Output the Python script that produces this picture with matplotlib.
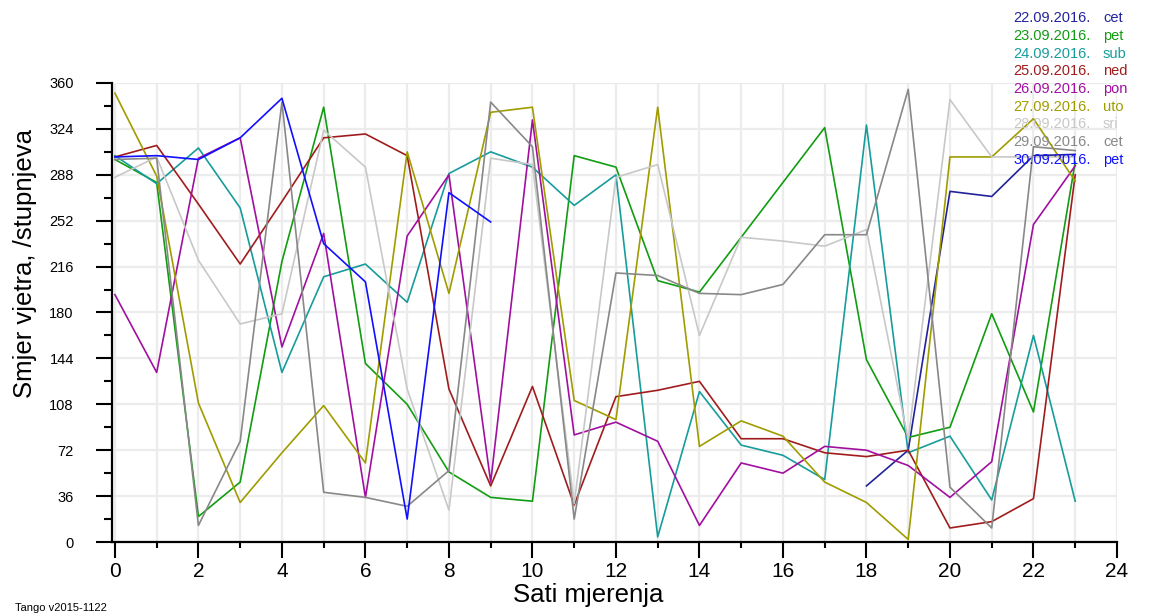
import matplotlib
matplotlib.use('Agg')
import matplotlib.pyplot as plt
from matplotlib.ticker import MultipleLocator

plt.rcParams['font.family'] = ['Liberation Sans', 'DejaVu Sans']

hours = list(range(24))

# one list per day, hour -> wind direction (degrees); None = no data
d22 = [None] * 18 + [44, 72, 275, 271, 303, 304]
d23 = [300, 282, 20, 47, 220, 341, 140, 108, 55, 35, 32, 303, 294, 205, 196, 239, 282, 325, 143, 82, 90, 179, 102, 298]
d24 = [303, 281, 309, 262, 133, 208, 218, 188, 289, 306, 294, 264, 288, 4, 118, 76, 68, 49, 327, 70, 83, 33, 162, 32]
d25 = [302, 311, 265, 218, 267, 317, 320, 303, 120, 44, 122, 29, 114, 119, 126, 81, 81, 70, 67, 72, 11, 16, 34, 288]
d26 = [194, 133, 301, 317, 153, 242, 35, 240, 288, 47, 331, 84, 94, 79, 13, 62, 54, 75, 72, 60, 35, 63, 249, 295]
d27 = [352, 287, 109, 31, 70, 107, 62, 306, 195, 337, 341, 111, 96, 341, 75, 95, 83, 47, 31, 2, 302, 302, 332, 283]
d28 = [286, 302, 221, 171, 179, 323, 294, 120, 25, 301, 296, 30, 286, 296, 162, 239, 236, 232, 245, 80, 347, 302, 302, 302]
d29 = [300, 301, 13, 79, 345, 39, 35, 28, 56, 345, 310, 18, 211, 209, 195, 194, 202, 241, 241, 355, 43, 11, 310, 307]
d30 = [302, 303, 300, 317, 348, 234, 204, 18, 274, 251] + [None] * 14

series = [d22, d23, d24, d25, d26, d27, d28, d29, d30]
dates = ['22.09.2016.', '23.09.2016.', '24.09.2016.', '25.09.2016.', '26.09.2016.',
         '27.09.2016.', '28.09.2016.', '29.09.2016.', '30.09.2016.']
days = ['cet', 'pet', 'sub', 'ned', 'pon', 'uto', 'sri', 'cet', 'pet']
colors = ['#22229c', '#119c11', '#179c9c', '#a01c1c', '#a010a0',
          '#a09c00', '#c8c8c8', '#888888', '#1010ff']

fig = plt.figure(figsize=(11.57, 6.16), dpi=100)
ax = fig.add_axes([0.0968, 0.1201, 0.8686, 0.7452])

for vals, col in zip(series, colors):
    xs = [h for h, v in zip(hours, vals) if v is not None]
    ys = [v for v in vals if v is not None]
    ax.plot(xs, ys, color=col, lw=1.2)

ax.set_xlim(-0.07, 24)
ax.set_ylim(0, 360)
ax.xaxis.set_major_locator(MultipleLocator(2))
ax.xaxis.set_minor_locator(MultipleLocator(1))
ax.yaxis.set_major_locator(MultipleLocator(36))
ax.yaxis.set_minor_locator(MultipleLocator(18))

ax.grid(True, which='major', axis='y', color='#ececec', lw=1.6)
ax.grid(True, which='both', axis='x', color='#ececec', lw=1.6)
ax.set_axisbelow(True)

for s in ['top', 'right']:
    ax.spines[s].set_visible(False)
for s in ['left', 'bottom']:
    ax.spines[s].set_linewidth(1.6)

ax.tick_params(axis='y', which='major', length=11.5, width=1.5, pad=16, labelsize=10.5)
ax.tick_params(axis='y', which='minor', length=5.8, width=1.5)
ax.tick_params(axis='x', which='major', length=11.5, width=1.5, pad=3, labelsize=15)
ax.tick_params(axis='x', which='minor', length=4, width=1.5)

ax.set_xlabel('Sati mjerenja', fontsize=18.5)
ax.set_ylabel('Smjer vjetra, /stupnjeva', fontsize=18.5)
ax.xaxis.set_label_coords(0.4736, -0.089)
ax.yaxis.set_label_coords(-0.0746, 0.606)

# legend as coloured text, top right
for i in range(len(dates)):
    y = 1 - (18 + 17.75 * i) / 616
    fig.text(1013 / 1157, y, dates[i], color=colors[i], fontsize=10.5, va='center', ha='left')
    fig.text(1103 / 1157, y, days[i], color=colors[i], fontsize=10.5, va='center', ha='left')

fig.text(15 / 1157, 1 - 608 / 616, 'Tango v2015-1122', fontsize=8, va='center', ha='left')

fig.savefig('out.png', dpi=100)
